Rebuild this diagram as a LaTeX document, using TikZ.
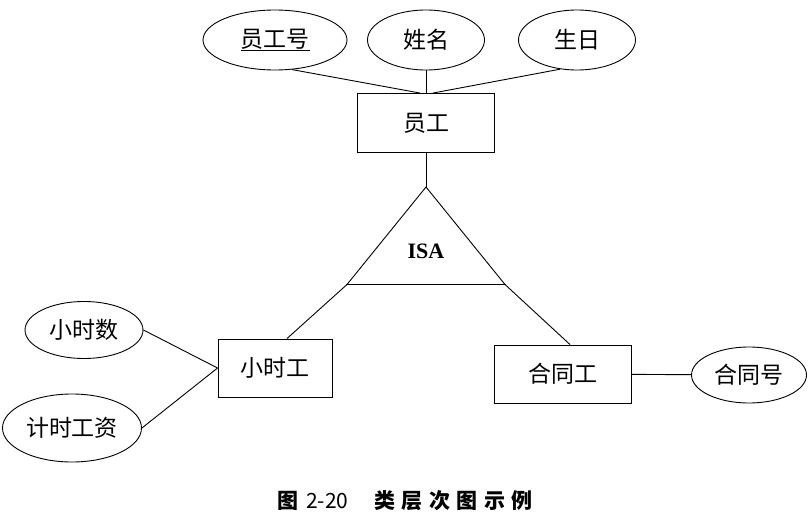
\documentclass[tikz,border=0pt]{standalone}
\usepackage{fontspec}
\setmainfont{Liberation Serif}
\newfontfamily\cjk{Noto Sans CJK SC}
\usepackage{tikz}
\usetikzlibrary{shapes.geometric, positioning, calc}

\begin{document}
\begin{tikzpicture}[
    x=1pt, y=-1pt,
    attr/.style={ellipse, draw, line width=0.9pt, inner sep=0pt, minimum width=117pt, minimum height=60pt, font=\cjk\fontsize{23}{24}\selectfont},
    ent/.style={rectangle, draw, line width=0.9pt, inner sep=0pt, minimum width=137pt, minimum height=59pt, font=\cjk\fontsize{23}{24}\selectfont},
    link/.style={line width=0.9pt, draw=black}
]
    \useasboundingbox (0,0) rectangle (809,519);

    \node (empno) [attr, minimum width=144pt] at (275,40) {\underline{员工号}};
    \node (name) [attr] at (426,40) {姓名};
    \node (birth) [attr] at (577,40) {生日};
    \node (emp) [ent] at (426,123) {员工};

    \coordinate (isa-top) at (426,187);
    \coordinate (isa-left) at (347,284.5);
    \coordinate (isa-right) at (505,284.5);
    \node (isa) at (426,251) {\fontsize{22}{24}\selectfont\bfseries ISA};

    \node (hour) [ent, minimum width=114pt, minimum height=58pt] at (275,368) {小时工};
    \node (contract) [ent, minimum height=58pt] at (563,374) {合同工};
    \node (hours) [attr, minimum width=118pt, minimum height=57pt] at (84,330) {小时数};
    \node (wage) [attr, minimum width=139pt, minimum height=68pt] at (72,428) {计时工资};
    \node (cno) [attr, minimum width=115pt, minimum height=56pt] at (749,375) {合同号};

    \node (caption) at (405,501) {\cjk\fontsize{21}{24}\selectfont {\bfseries 图}\hspace{8pt}2-20\hspace{26pt}\bfseries 类\hspace{6.5pt}层\hspace{6.5pt}次\hspace{6.5pt}图\hspace{6.5pt}示\hspace{6.5pt}例};

    \draw [link] (empno.-60) -- ([xshift=-6pt]emp.north);
    \draw [link] (name) -- (emp);
    \draw [link] (birth.-120) -- ([xshift=7pt]emp.north);
    \draw [link] (emp.south) -- (isa-top);
    \draw [link] (isa-top) -- (isa-left) -- (isa-right) -- cycle;
    \draw [link] (isa-left) -- ([xshift=12pt]hour.north);
    \draw [link] (isa-right) -- ([xshift=7pt]contract.north);
    \draw [link] (hours.east) -- (hour.west);
    \draw [link] (wage.east) -- (hour.west);
    \draw [link] (contract) -- (cno);
\end{tikzpicture}
\end{document}
